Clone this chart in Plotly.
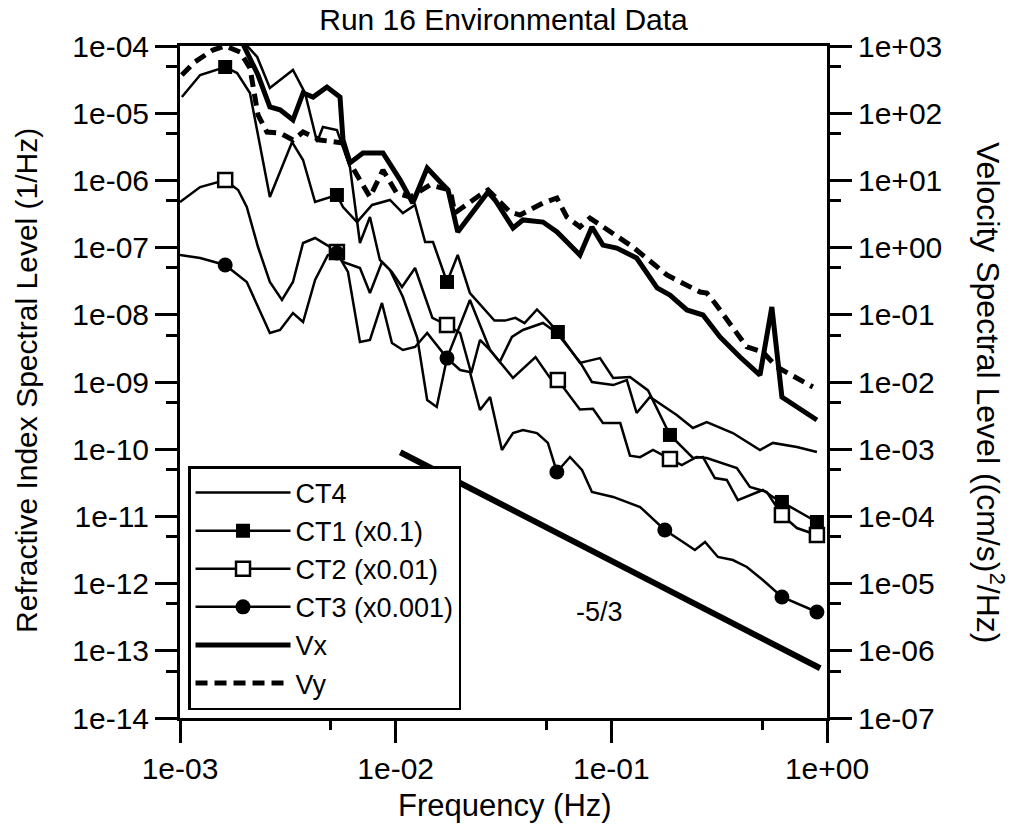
import plotly.graph_objects as go

# ---------------- data ----------------
# CT4 (1/Hz, left axis)
ct4_f = [1.90e-3, 2.28e-3, 2.61e-3, 3.34e-3, 3.80e-3, 4.32e-3, 4.60e-3, 5.34e-3, 6.14e-3,
         6.83e-3, 7.60e-3, 8.45e-3, 9.41e-3, 1.08e-2, 1.26e-2, 1.40e-2, 1.55e-2, 1.73e-2,
         2.21e-2, 2.74e-2, 3.04e-2, 3.46e-2, 3.89e-2, 4.82e-2, 5.59e-2, 7.15e-2, 8.13e-2,
         1.02e-1, 1.18e-1, 1.31e-1, 1.51e-1, 2.01e-1, 2.39e-1, 2.77e-1, 3.66e-1, 4.89e-1,
         5.61e-1, 7.25e-1, 8.98e-1]
ct4_v = [1.31e-4, 6.86e-5, 2.37e-5, 4.40e-5, 2.00e-5, 3.72e-6, 6.24e-6, 5.62e-6, 1.58e-6,
         1.17e-7, 2.85e-7, 6.54e-8, 4.65e-8, 1.84e-8, 4.52e-9, 5.40e-10, 4.25e-10, 2.27e-9,
         1.66e-8, 2.99e-9, 1.99e-9, 4.68e-9, 5.94e-9, 7.55e-9, 5.36e-9, 1.99e-9, 1.00e-9,
         9.00e-10, 1.07e-9, 3.46e-10, 5.98e-10, 3.23e-10, 2.07e-10, 2.54e-10, 1.74e-10, 9.73e-11,
         1.24e-10, 1.08e-10, 9.08e-11]

# CT1 (x0.1)
ct1_f = [1.02e-3, 1.24e-3, 1.62e-3, 1.84e-3, 2.11e-3, 2.61e-3, 3.31e-3, 3.72e-3, 4.23e-3,
         5.34e-3, 5.70e-3, 6.62e-3, 7.77e-3, 9.41e-3, 1.08e-2, 1.23e-2, 1.37e-2, 1.49e-2,
         1.73e-2, 1.94e-2, 2.21e-2, 2.51e-2, 2.87e-2, 3.21e-2, 3.59e-2, 3.96e-2, 4.52e-2,
         5.00e-2, 5.65e-2, 7.15e-2, 8.86e-2, 1.02e-1, 1.22e-1, 1.48e-1, 1.87e-1, 2.39e-1, 2.66e-1,
         3.02e-1, 3.43e-1, 3.86e-1, 5.04e-1, 5.61e-1, 6.18e-1, 8.98e-1]
ct1_v = [1.74e-5, 3.70e-5, 4.87e-5, 3.96e-5, 2.00e-5, 5.66e-7, 3.72e-6, 2.01e-6, 4.77e-7,
         6.07e-7, 4.02e-7, 2.40e-7, 4.31e-7, 5.11e-7, 3.27e-7, 4.31e-7, 1.21e-7, 1.21e-7,
         3.08e-8, 7.76e-8, 2.11e-8, 1.34e-8, 8.2e-9, 8.2e-9, 9.0e-9, 7.5e-9, 1.2e-8,
         8.6e-9, 5.55e-9, 1.92e-9, 2.27e-9, 1.15e-9, 1.19e-9, 7.5e-10, 1.63e-10, 7.40e-11, 7.65e-11,
         3.72e-11, 3.48e-11, 1.75e-11, 2.47e-11, 1.95e-11, 1.64e-11, 8.26e-12]
ct1_mark_f = [1.62e-3, 5.34e-3, 1.73e-2, 5.65e-2, 1.87e-1, 6.18e-1, 8.98e-1]
ct1_mark_v = [4.87e-5, 6.07e-7, 3.08e-8, 5.55e-9, 1.63e-10, 1.64e-11, 8.26e-12]

# CT2 (x0.01)
ct2_f = [1.00e-3, 1.24e-3, 1.62e-3, 1.86e-3, 2.04e-3, 2.30e-3, 2.61e-3, 2.97e-3, 3.34e-3,
         3.72e-3, 4.23e-3, 4.80e-3, 5.34e-3, 5.70e-3, 6.83e-3, 7.60e-3, 8.64e-3, 9.61e-3,
         1.07e-2, 1.23e-2, 1.48e-2, 1.73e-2, 1.99e-2, 2.24e-2, 2.46e-2, 2.74e-2, 3.50e-2,
         4.45e-2, 5.20e-2, 5.65e-2, 7.15e-2, 8.22e-2, 9.14e-2, 1.10e-1, 1.22e-1, 1.36e-1, 1.56e-1, 1.87e-1,
         2.12e-1, 2.49e-1, 2.77e-1, 3.82e-1, 4.39e-1, 5.26e-1, 6.18e-1, 7.25e-1, 8.98e-1]
ct2_v = [4.77e-7, 7.97e-7, 1.01e-6, 7.20e-7, 4.02e-7, 1.02e-7, 3.08e-8, 1.66e-8, 3.08e-8,
         1.17e-7, 1.39e-7, 1.09e-7, 8.61e-8, 6.11e-8, 4.97e-8, 2.11e-8, 6.11e-8, 4.34e-8,
         2.59e-8, 4.97e-8, 9.0e-9, 7.05e-9, 5.36e-9, 1.35e-9, 4.22e-9, 2.99e-9, 1.15e-9,
         2.35e-9, 1.15e-9, 1.07e-9, 3.9e-10, 4.0e-10, 2.45e-10, 2.45e-10, 8.0e-11, 7.6e-11, 9.73e-11, 7.15e-11,
         5.82e-11, 7.65e-11, 7.40e-11, 5.25e-11, 2.74e-11, 2.31e-11, 1.05e-11, 6.71e-12, 5.29e-12]
ct2_mark_f = [1.62e-3, 5.34e-3, 1.73e-2, 5.65e-2, 1.87e-1, 6.18e-1, 8.98e-1]
ct2_mark_v = [1.01e-6, 8.61e-8, 7.05e-9, 1.07e-9, 7.15e-11, 1.05e-11, 5.29e-12]

# CT3 (x0.001)
ct3_f = [1.00e-3, 1.24e-3, 1.62e-3, 2.04e-3, 2.61e-3, 2.91e-3, 3.34e-3, 3.72e-3, 4.23e-3,
         4.85e-3, 5.34e-3, 6.01e-3, 6.83e-3, 7.60e-3, 8.64e-3, 9.61e-3, 1.08e-2, 1.23e-2,
         1.40e-2, 1.73e-2, 1.99e-2, 2.21e-2, 2.46e-2, 2.74e-2, 3.11e-2, 3.50e-2, 3.89e-2,
         4.52e-2, 5.08e-2, 5.59e-2, 6.43e-2, 7.31e-2, 8.13e-2, 1.02e-1, 1.36e-1, 1.77e-1,
         2.15e-1, 2.44e-1, 2.72e-1, 3.12e-1, 3.66e-1, 4.25e-1, 5.04e-1, 6.18e-1, 8.98e-1]
ct3_v = [7.76e-8, 7.00e-8, 5.51e-8, 3.08e-8, 5.36e-9, 5.94e-9, 1.06e-8, 7.82e-9, 3.30e-8,
         7.76e-8, 8.32e-8, 4.34e-8, 3.94e-9, 4.22e-9, 1.50e-8, 3.80e-9, 2.99e-9, 3.32e-9,
         5.36e-9, 2.27e-9, 1.51e-9, 1.41e-9, 3.83e-10, 5.98e-10, 9.73e-11, 1.74e-10, 1.93e-10,
         1.74e-10, 1.24e-10, 4.58e-11, 7.65e-11, 4.90e-11, 2.31e-11, 1.95e-11, 1.38e-11, 6.28e-12,
         4.16e-12, 3.16e-12, 4.16e-12, 2.49e-12, 2.24e-12, 1.77e-12, 1.13e-12, 6.32e-13, 3.78e-13]
ct3_mark_f = [1.62e-3, 5.34e-3, 1.73e-2, 5.59e-2, 1.77e-1, 6.18e-1, 8.98e-1]
ct3_mark_v = [5.51e-8, 8.32e-8, 2.27e-9, 4.58e-11, 6.28e-12, 6.32e-13, 3.78e-13]

# Vx, Vy ((cm/s)^2/Hz, right axis)
vx_f = [1.90e-3, 2.30e-3, 2.61e-3, 2.91e-3, 3.34e-3, 3.72e-3, 4.14e-3, 4.80e-3, 5.52e-3,
        5.70e-3, 6.14e-3, 7.05e-3, 8.73e-3, 1.05e-2, 1.20e-2, 1.40e-2, 1.61e-2, 1.75e-2,
        1.94e-2, 2.21e-2, 2.68e-2, 2.89e-2, 3.50e-2, 3.89e-2, 4.82e-2, 5.60e-2, 7.15e-2,
        8.13e-2, 9.14e-2, 1.06e-1, 1.31e-1, 1.63e-1, 1.87e-1, 2.24e-1, 2.66e-1, 3.19e-1,
        3.95e-1, 4.89e-1, 5.55e-1, 6.18e-1, 8.98e-1]
vx_v = [1310, 370, 124, 112, 79.2, 200, 174, 245, 174,
        39.9, 18.2, 25.6, 25.6, 10.1, 4.61, 15.3, 9.46, 7.20,
        1.71, 3.05, 6.72, 5.11, 1.96, 2.58, 2.40, 1.71, 0.776,
        2.03, 1.09, 0.986, 0.700, 0.251, 0.197, 0.118, 0.0993, 0.0468,
        0.0235, 0.0127, 0.131, 5.98e-3, 2.72e-3]

vy_f = [1.02e-3, 1.17e-3, 1.42e-3, 1.62e-3, 1.90e-3, 2.11e-3, 2.30e-3, 2.53e-3, 2.91e-3,
        3.34e-3, 3.72e-3, 4.46e-3, 5.70e-3, 6.14e-3, 6.83e-3, 7.60e-3, 8.73e-3, 1.01e-2,
        1.17e-2, 1.44e-2, 1.79e-2, 1.88e-2, 2.46e-2, 2.68e-2, 3.39e-2, 3.77e-2, 4.82e-2,
        5.59e-2, 6.22e-2, 7.15e-2, 7.96e-2, 8.86e-2, 1.06e-1, 1.26e-1, 1.81e-1, 2.58e-1,
        2.77e-1, 3.02e-1, 4.25e-1, 5.04e-1, 5.86e-1, 8.60e-1]
vy_v = [370, 578, 872, 1000, 814, 471, 94.0, 52.5, 50.7,
        39.9, 52.5, 39.9, 36.0, 18.2, 10.1, 5.66, 14.3, 6.49,
        5.66, 8.55, 7.20, 3.27, 6.07, 7.20, 3.39, 3.05, 4.61,
        5.47, 2.85, 2.03, 2.75, 2.17, 1.44, 1.02, 0.391, 0.218,
        0.211, 0.150, 0.0332, 0.0279, 0.0167, 8.43e-3]

# -5/3 reference slope
slope_f = [1.05e-2, 9.30e-1]
slope_v = [9.0e-11, 5.5e-14]

# axis ticks
x_ticks = [1e-3, 1e-2, 1e-1, 1e0]
x_labels = ["1e-03", "1e-02", "1e-01", "1e+00"]
x_minor = [5e-3, 5e-2, 5e-1]
yl_ticks = [1e-4, 1e-5, 1e-6, 1e-7, 1e-8, 1e-9, 1e-10, 1e-11, 1e-12, 1e-13, 1e-14]
yl_labels = ["1e-04", "1e-05", "1e-06", "1e-07", "1e-08", "1e-09", "1e-10", "1e-11",
             "1e-12", "1e-13", "1e-14"]
yl_minor = [5e-5, 5e-6, 5e-7, 5e-8, 5e-9, 5e-10, 5e-11, 5e-12, 5e-13, 5e-14]
yr_ticks = [1e3, 1e2, 1e1, 1e0, 1e-1, 1e-2, 1e-3, 1e-4, 1e-5, 1e-6, 1e-7]
yr_labels = ["1e+03", "1e+02", "1e+01", "1e+00", "1e-01", "1e-02", "1e-03", "1e-04",
             "1e-05", "1e-06", "1e-07"]
yr_minor = [5e2, 5e1, 5e0, 5e-1, 5e-2, 5e-3, 5e-4, 5e-5, 5e-6, 5e-7]

# ---------------- figure ----------------
K = "black"
FONT = "Liberation Sans, Arial, Helvetica, sans-serif"
thin = dict(color=K, width=2.5)
thick = dict(color=K, width=5)
dashed = dict(color=K, width=5, dash="12px,7px")

fig = go.Figure()

# data lines
fig.add_trace(go.Scatter(x=ct4_f, y=ct4_v, mode="lines", line=thin, showlegend=False, hoverinfo="skip"))
fig.add_trace(go.Scatter(x=ct1_f, y=ct1_v, mode="lines", line=thin, showlegend=False, hoverinfo="skip"))
fig.add_trace(go.Scatter(x=ct2_f, y=ct2_v, mode="lines", line=thin, showlegend=False, hoverinfo="skip"))
fig.add_trace(go.Scatter(x=ct3_f, y=ct3_v, mode="lines", line=thin, showlegend=False, hoverinfo="skip"))
fig.add_trace(go.Scatter(x=vx_f, y=vx_v, mode="lines", line=thick, yaxis="y2", showlegend=False, hoverinfo="skip"))
fig.add_trace(go.Scatter(x=vy_f, y=vy_v, mode="lines", line=dashed, yaxis="y2", showlegend=False, hoverinfo="skip"))
fig.add_trace(go.Scatter(x=slope_f, y=slope_v, mode="lines", line=dict(color=K, width=6), showlegend=False, hoverinfo="skip"))

# markers
sq_fill = dict(symbol="square", size=14, color=K, line=dict(color=K, width=0))
sq_open = dict(symbol="square", size=14, color="white", line=dict(color=K, width=2.5))
circ = dict(symbol="circle", size=15, color=K, line=dict(color=K, width=0))
fig.add_trace(go.Scatter(x=ct1_mark_f, y=ct1_mark_v, mode="markers", marker=sq_fill, showlegend=False, cliponaxis=False))
fig.add_trace(go.Scatter(x=ct2_mark_f, y=ct2_mark_v, mode="markers", marker=sq_open, showlegend=False, cliponaxis=False))
fig.add_trace(go.Scatter(x=ct3_mark_f, y=ct3_mark_v, mode="markers", marker=circ, showlegend=False, cliponaxis=False))

# legend entries
fig.add_trace(go.Scatter(x=[None], y=[None], mode="lines", line=thin, name="CT4"))
fig.add_trace(go.Scatter(x=[None], y=[None], mode="lines+markers", line=thin, marker=sq_fill, name="CT1 (x0.1)"))
fig.add_trace(go.Scatter(x=[None], y=[None], mode="lines+markers", line=thin, marker=sq_open, name="CT2 (x0.01)"))
fig.add_trace(go.Scatter(x=[None], y=[None], mode="lines+markers", line=thin, marker=circ, name="CT3 (x0.001)"))
fig.add_trace(go.Scatter(x=[None], y=[None], mode="lines", line=thick, name="Vx"))
fig.add_trace(go.Scatter(x=[None], y=[None], mode="lines", line=dashed, name="Vy"))

axis_common = dict(type="log", ticks="outside", tickwidth=2.5, tickcolor=K, showline=True,
                   linewidth=3, linecolor=K, showgrid=False, zeroline=False,
                   tickfont=dict(size=30, family=FONT, color=K))

fig.update_layout(
    width=1019, height=833,
    margin=dict(l=180, r=192, t=46, b=115),
    paper_bgcolor="white", plot_bgcolor="white",
    font=dict(family=FONT, size=28, color=K),
    title=dict(text="Run 16 Environmental Data", x=0.5, xref="paper", xanchor="center",
               y=0.976, yref="container", yanchor="middle", font=dict(size=30, family=FONT, color=K)),
    xaxis=dict(range=[-3, 0], tickvals=x_ticks, ticktext=x_labels, ticklen=22, mirror=True,
               minor=dict(tickvals=x_minor, ticks="outside", ticklen=9, tickwidth=2.5, tickcolor=K, showgrid=False),
               **axis_common),
    yaxis=dict(range=[-14, -4], tickvals=yl_ticks, ticktext=yl_labels, ticklen=22,
               minor=dict(tickvals=yl_minor, ticks="outside", ticklen=11, tickwidth=2.5, tickcolor=K, showgrid=False),
               **axis_common),
    yaxis2=dict(range=[-7, 3], tickvals=yr_ticks, ticktext=yr_labels, ticklen=22,
                overlaying="y", side="right",
                minor=dict(tickvals=yr_minor, ticks="outside", ticklen=11, tickwidth=2.5, tickcolor=K, showgrid=False),
                **axis_common),
    legend=dict(x=0.0124, y=0.0119, xanchor="left", yanchor="bottom", bgcolor="white",
                bordercolor=K, borderwidth=2.5, font=dict(size=27, family=FONT, color=K),
                tracegroupgap=0, itemwidth=95),
    annotations=[
        dict(text="Frequency (Hz)", x=0.502, y=-0.1295, xref="paper", yref="paper",
             xanchor="center", yanchor="middle", showarrow=False, font=dict(size=31)),
        dict(text="Refractive Index Spectral Level (1/Hz)", x=-0.2365, y=0.503, xref="paper", yref="paper",
             xanchor="center", yanchor="middle", textangle=-90, showarrow=False, font=dict(size=30)),
        dict(text="Velocity Spectral Level ((cm/s)<sup>2</sup>/Hz)", x=1.252, y=0.485, xref="paper", yref="paper",
             xanchor="center", yanchor="middle", textangle=90, showarrow=False, font=dict(size=32)),
        dict(text="-5/3", x=-1.053, y=-12.42, xref="x", yref="y", xanchor="center", yanchor="middle",
             showarrow=False, font=dict(size=27)),
    ],
)

fig.write_html("out.html")
